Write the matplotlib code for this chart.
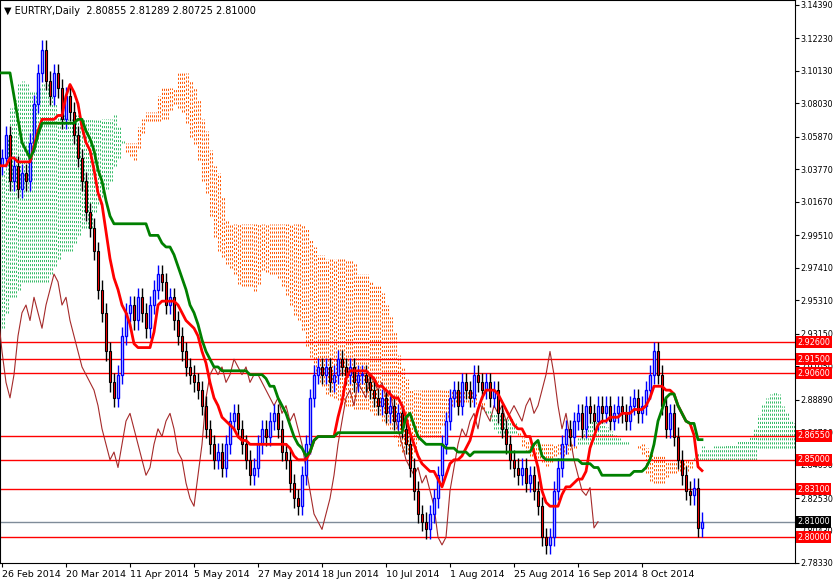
import numpy as np
import matplotlib
matplotlib.use("Agg")
import matplotlib.pyplot as plt
from matplotlib.transforms import blended_transform_factory

# ---- data ----
prior_close = [2.74,2.75,2.76,2.75,2.74,2.73,2.74,2.75,2.76,2.77,2.78,2.77,2.76,2.75,2.76,2.77,2.78,2.79,2.80,2.79,
               2.80,2.81,2.82,2.83,2.82,2.84,2.85,2.86,2.87,2.88,2.90,2.91,2.93,2.94,2.95,2.93,2.95,2.96,2.97,2.98,
               2.97,2.99,3.00,3.01,3.02,3.00,3.03,3.05,3.06,3.08,3.10,3.11,3.12,3.12,3.14,3.16,3.18,3.15,3.12,3.09,
               3.08,3.06,3.04,3.05,3.07,3.06,3.05,3.03,3.04,3.06,3.05,3.03,3.02,3.04,3.05,3.03,3.04,3.06,3.05,3.04]
close = [3.045,3.060,3.030,3.040,3.025,3.035,3.030,3.055,3.080,3.100,
         3.115,3.095,3.085,3.100,3.090,3.070,3.085,3.075,3.060,3.045,
         3.030,3.010,3.000,2.985,2.960,2.945,2.920,2.900,2.890,2.905,
         2.930,2.945,2.950,2.940,2.955,2.945,2.935,2.950,2.960,2.970,
         2.965,2.950,2.955,2.940,2.930,2.920,2.910,2.905,2.900,2.895,
         2.885,2.870,2.860,2.850,2.855,2.845,2.860,2.875,2.880,2.870,
         2.860,2.850,2.840,2.845,2.860,2.870,2.865,2.875,2.880,2.870,
         2.855,2.850,2.835,2.825,2.820,2.840,2.860,2.890,2.905,2.910,
         2.905,2.910,2.900,2.905,2.915,2.910,2.905,2.910,2.900,2.905,
         2.905,2.900,2.895,2.890,2.885,2.890,2.880,2.885,2.875,2.880,
         2.870,2.860,2.845,2.830,2.815,2.810,2.805,2.815,2.825,2.840,
         2.860,2.875,2.890,2.895,2.885,2.900,2.895,2.890,2.905,2.900,
         2.895,2.900,2.890,2.895,2.880,2.870,2.860,2.850,2.845,2.840,
         2.845,2.835,2.840,2.830,2.820,2.800,2.795,2.800,2.830,2.845,
         2.860,2.870,2.865,2.875,2.880,2.870,2.885,2.880,2.875,2.885,
         2.880,2.885,2.875,2.880,2.885,2.880,2.875,2.885,2.890,2.880,
         2.885,2.895,2.905,2.920,2.905,2.885,2.870,2.880,2.865,2.850,
         2.840,2.830,2.827,2.832,2.806,2.810]
wick = 0.006
red_levels = [2.926, 2.915, 2.906, 2.8655, 2.850, 2.831, 2.800]
last_price = 2.810
price_ticks = [3.14390,3.12230,3.10130,3.08030,3.05870,3.03770,3.01670,2.99510,2.97410,
               2.95310,2.93150,2.91050,2.88890,2.86790,2.84690,2.82530,2.80430,2.78330]
date_labels = ["26 Feb 2014","20 Mar 2014","11 Apr 2014","5 May 2014","27 May 2014","18 Jun 2014",
               "10 Jul 2014","1 Aug 2014","25 Aug 2014","16 Sep 2014","8 Oct 2014"]
title = "EURTRY,Daily  2.80855 2.81289 2.80725 2.81000"

# ---- build OHLC & ichimoku ----
allc = np.array(prior_close + close)
n0 = len(prior_close)
opn = np.r_[allc[0], allc[:-1]]
hi = np.maximum(opn, allc) + wick
lo = np.minimum(opn, allc) - wick
idx = np.arange(len(allc)) - n0

def mid(p):
    out = np.full(len(allc), np.nan)
    for i in range(p - 1, len(allc)):
        out[i] = (hi[i-p+1:i+1].max() + lo[i-p+1:i+1].min()) / 2
    return out
tenkan = mid(9); kijun = mid(26); sb = mid(52)
sa = (tenkan + kijun) / 2
cx = idx + 26

fig = plt.figure(figsize=(8.35, 5.85), dpi=100)
ax = fig.add_axes([0, 22/585, 795/835, 563/585])
ax.set_xlim(-0.5, 198.25)
ax.set_ylim(2.7833, 3.1471)

# cloud dots
for x, a, b in zip(cx, sa, sb):
    if np.isnan(a) or np.isnan(b):
        continue
    col = '#33bb66' if a > b else '#ff5500'
    for dx in (0, 0.5):
        ax.vlines(x + dx, min(a, b), max(a, b), colors=col, lw=0.7,
                  linestyles=(0, (2.2, 2.0)), zorder=1)

# red levels
for lv in red_levels:
    ax.axhline(lv, color='#ff0000', lw=1, zorder=2)
ax.axhline(last_price, color='#7f8c99', lw=1, zorder=2)

# chikou
ax.plot(idx - 26, allc, color='#a52a2a', lw=0.8, zorder=3)

# candles
for x, o, c, h, l in zip(idx, opn, allc, hi, lo):
    if x < -1:
        continue
    if c >= o:
        ax.vlines(x, l, h, colors='#0000ff', lw=1, zorder=4)
        ax.add_patch(plt.Rectangle((x - 0.3, o), 0.6, max(c - o, 0.0004), fc='white', ec='#0000ff', lw=1, zorder=5))
    else:
        ax.vlines(x, l, h, colors='black', lw=1, zorder=4)
        ax.add_patch(plt.Rectangle((x - 0.3, c), 0.6, o - c, fc='#ff0000', ec='black', lw=0.8, zorder=5))

ax.plot(idx, tenkan, color='#ff0000', lw=2, zorder=6)
ax.plot(idx, kijun, color='#008000', lw=2, zorder=6)

# axes styling
ax.yaxis.tick_right()
ax.set_yticks(price_ticks)
ax.set_yticklabels([f"{t:.5f}" for t in price_ticks])
ax.tick_params(axis='y', length=3, labelsize=5.8, pad=1.2, direction='out')
xt = [16 * k for k in range(len(date_labels))]
ax.set_xticks(xt)
ax.set_xticklabels(date_labels, ha='left')
ax.tick_params(axis='x', length=3, labelsize=6.8, pad=2)
for s in ax.spines.values():
    s.set_color('black')

tr = blended_transform_factory(ax.transAxes, ax.transData)
for lv in red_levels:
    ax.text(1.003, lv, f"{lv:.5f}", transform=tr, fontsize=5.8, color='white', va='center', ha='left',
            bbox=dict(fc='#ff0000', ec='none', pad=1.0), zorder=10)
ax.text(1.003, last_price, f"{last_price:.5f}", transform=tr, fontsize=5.8, color='white', va='center', ha='left',
        bbox=dict(fc='black', ec='none', pad=1.0), zorder=10)

ax.text(0.005, 0.99, "▼ " + title, transform=ax.transAxes, fontsize=7, va='top', ha='left', zorder=10,
        bbox=dict(fc='white', ec='none', pad=0.5))
fig.savefig("out.png", dpi=100)
